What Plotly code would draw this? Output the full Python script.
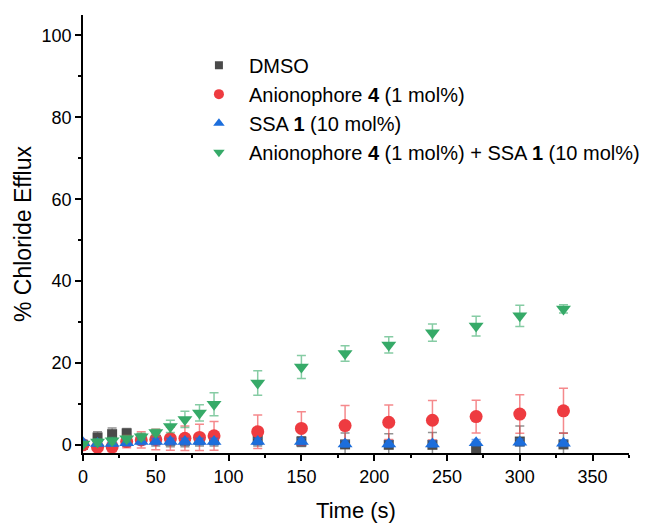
import plotly.graph_objects as go

time_s = [0, 10, 20, 30, 40, 50, 60, 70, 80, 90, 120, 150, 180, 210, 240, 270, 300, 330]

dmso = [0.0, 1.8, 2.6, 2.8, 1.5, 1.2, 1.0, 1.0, 1.2, 1.2, 1.2, 0.8, 0.1, 0.0, 0.0, -1.0, 0.8, 0.1]
dmso_err = [0.5, 1.4, 1.5, 1.2, 1.0, 1.5, 1.5, 1.5, 1.5, 1.5, 1.5, 1.2, 2.8, 2.7, 3.0, 1.8, 3.8, 2.8]

anion4 = [0.0, -0.6, -0.5, 0.8, 1.2, 1.3, 1.5, 1.6, 1.8, 2.2, 3.2, 4.0, 4.7, 5.5, 6.0, 6.9, 7.5, 8.3]
anion4_err = [0.5, 1.0, 1.2, 1.5, 2.0, 2.5, 2.8, 3.0, 3.2, 3.5, 4.1, 4.1, 4.9, 4.2, 4.8, 4.0, 4.7, 5.5]

ssa1 = [0.5, 0.3, 0.3, 0.5, 0.8, 0.8, 0.8, 0.8, 0.8, 0.8, 0.8, 0.8, 0.2, 0.2, 0.2, 0.5, 0.6, 0.4]
ssa1_err = [0.6, 0.6, 0.6, 0.8, 0.8, 0.8, 0.8, 0.8, 0.8, 0.8, 0.8, 0.8, 0.8, 0.8, 0.8, 0.8, 0.8, 0.8]

combo = [0.2, 0.7, 1.0, 1.5, 2.0, 3.0, 4.5, 6.2, 7.8, 9.9, 15.1, 19.0, 22.3, 24.4, 27.4, 29.0, 31.5, 33.2]
combo_err = [0.5, 0.8, 0.8, 0.8, 0.8, 0.8, 1.5, 2.0, 2.0, 2.8, 3.0, 2.8, 1.9, 2.0, 2.1, 2.4, 2.6, 1.0]

names = ["DMSO", "Anionophore <b>4</b> (1 mol%)", "SSA <b>1</b> (10 mol%)",
         "Anionophore <b>4</b> (1 mol%) + SSA <b>1</b> (10 mol%)"]
series = [dmso, anion4, ssa1, combo]
errors = [dmso_err, anion4_err, ssa1_err, combo_err]
colors = ["#4A4A4A", "#EE3B40", "#1C6EDC", "#36AA68"]
err_colors = ["rgba(74,74,74,0.6)", "rgba(238,59,64,0.6)", "rgba(28,110,220,0.6)", "rgba(54,170,104,0.6)"]
symbols = ["square", "circle", "triangle-up", "triangle-down"]
sizes = [10, 13, 13, 13]
legend_sizes = [8, 10, 10, 10]

fig = go.Figure()
for ys, es, c, ec, sym, sz in zip(series, errors, colors, err_colors, symbols, sizes):
    fig.add_trace(go.Scatter(
        x=time_s, y=ys, mode="markers", showlegend=False,
        marker=dict(symbol=sym, size=sz, color=c, line=dict(width=0)),
        error_y=dict(type="data", array=es, visible=True, color=ec, thickness=1.5, width=4.5),
    ))
for nm, c, sym, sz in zip(names, colors, symbols, legend_sizes):
    fig.add_trace(go.Scatter(
        x=[None], y=[None], mode="markers", name=nm,
        marker=dict(symbol=sym, size=sz, color=c, line=dict(width=0)),
    ))

axis_common = dict(
    showline=True, linecolor="black", linewidth=1.5, mirror=False,
    showgrid=False, zeroline=False, automargin=False,
    ticks="outside", ticklen=6, tickwidth=1.5, tickcolor="black",
    tickfont=dict(family="Liberation Sans, Arial, sans-serif", size=18, color="black"),
)

fig.update_layout(
    width=653, height=523,
    margin=dict(l=83, r=24, t=15, b=70, autoexpand=False),
    paper_bgcolor="white", plot_bgcolor="white",
    font=dict(family="Liberation Sans, Arial, sans-serif", color="black"),
    xaxis=dict(
        range=[0, 375], tick0=0, dtick=50,
        minor=dict(dtick=25, tick0=0, ticks="outside", ticklen=3, tickwidth=1.5, tickcolor="black"),
        title=dict(text="Time (s)", font=dict(size=22), standoff=22),
        ticklabelstandoff=1,
        **axis_common,
    ),
    yaxis=dict(
        range=[-2, 105], tick0=0, dtick=20,
        minor=dict(dtick=10, tick0=0, ticks="outside", ticklen=3, tickwidth=1.5, tickcolor="black"),
        title=dict(text="% Chloride Efflux", font=dict(size=23), standoff=4),
        **axis_common,
    ),
    legend=dict(
        x=0.194, y=0.93, xanchor="left", yanchor="top",
        bgcolor="rgba(0,0,0,0)", borderwidth=0,
        font=dict(size=20, color="black"),
        itemwidth=50, tracegroupgap=0,
    ),
)

fig.write_html("out.html")
